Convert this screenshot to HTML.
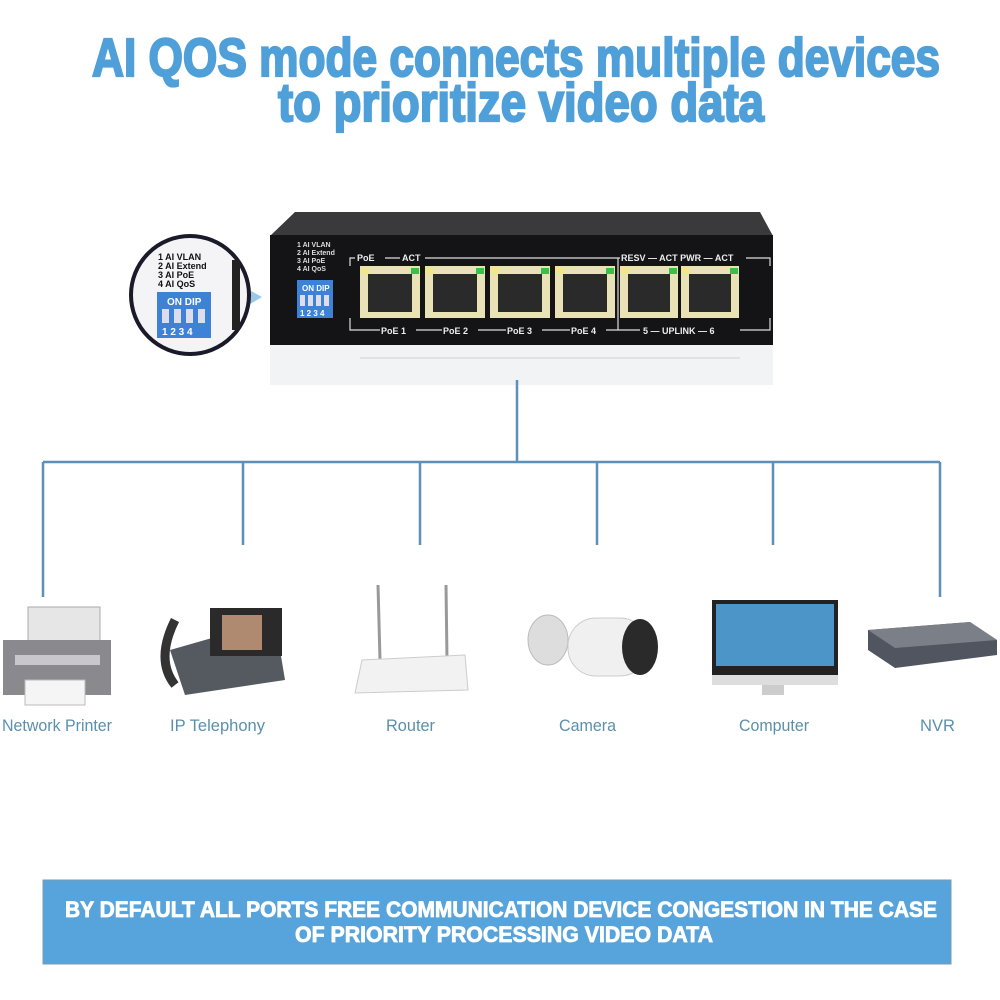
<!DOCTYPE html>
<html><head><meta charset="utf-8"><style>
html,body{margin:0;padding:0;background:#fff;}
svg{display:block;}
</style></head><body>
<svg width="1000" height="1000" viewBox="0 0 1000 1000" xmlns="http://www.w3.org/2000/svg" font-family="Liberation Sans, sans-serif">
<rect width="1000" height="1000" fill="#fff"/>
<g fill="#4f9fd9" stroke="#4f9fd9" stroke-width="2.2" font-weight="bold" font-size="54">
<text x="92" y="76" textLength="848" lengthAdjust="spacingAndGlyphs">AI QOS mode connects multiple devices</text>
<text x="278" y="121" textLength="486" lengthAdjust="spacingAndGlyphs">to prioritize video data</text>
</g>
<polygon points="295,212 760,212 773,236 270,236" fill="#3a3a3c"/>
<rect x="270" y="235" width="503" height="110" fill="#141416"/>
<rect x="270" y="345" width="503" height="40" fill="#f2f3f5"/>
<g stroke="#dfe2e6" stroke-width="2"><line x1="360" y1="358" x2="740" y2="358"/></g>
<g fill="#ddd" font-size="7" font-weight="bold">
<text x="297" y="247">1 AI VLAN</text><text x="297" y="255">2 AI Extend</text><text x="297" y="263">3 AI PoE</text><text x="297" y="271">4 AI QoS</text>
</g>
<rect x="297" y="280" width="36" height="38" fill="#3d82d6"/>
<g fill="#fff" font-size="8" font-weight="bold"><text x="302" y="291">ON DIP</text><text x="300" y="316">1 2 3 4</text></g>
<g fill="#dde"><rect x="300" y="295" width="5" height="11"/><rect x="308" y="295" width="5" height="11"/><rect x="316" y="295" width="5" height="11"/><rect x="324" y="295" width="5" height="11"/></g>
<g stroke="#ddd" stroke-width="1.2" fill="none">
<polyline points="350,266 350,258 770,258 770,266"/>
<polyline points="350,318 350,330 770,330 770,318"/>
<line x1="618" y1="258" x2="618" y2="330"/>
</g>
<g fill="#eee" font-size="9" font-weight="bold">
<rect x="355" y="252" width="30" height="11" fill="#141416"/><text x="357" y="261">PoE</text>
<rect x="400" y="252" width="25" height="11" fill="#141416"/><text x="402" y="261">ACT</text>
<rect x="620" y="252" width="126" height="11" fill="#141416"/><text x="621" y="261">RESV — ACT  PWR — ACT</text>
<rect x="380" y="325" width="36" height="11" fill="#141416"/><text x="381" y="334">PoE 1</text>
<rect x="442" y="325" width="36" height="11" fill="#141416"/><text x="443" y="334">PoE 2</text>
<rect x="506" y="325" width="36" height="11" fill="#141416"/><text x="507" y="334">PoE 3</text>
<rect x="570" y="325" width="36" height="11" fill="#141416"/><text x="571" y="334">PoE 4</text>
<rect x="640" y="325" width="100" height="11" fill="#141416"/><text x="643" y="334">5 — UPLINK — 6</text>
</g>
<g>
<g transform="translate(360,266)"><rect width="60" height="52" fill="#e8e2b6"/><rect x="8" y="8" width="44" height="38" fill="#2a2a2a"/><rect x="1" y="2" width="8" height="6" fill="#f0e68a"/><rect x="51" y="2" width="8" height="6" fill="#39c04a"/></g>
<g transform="translate(425,266)"><rect width="60" height="52" fill="#e8e2b6"/><rect x="8" y="8" width="44" height="38" fill="#2a2a2a"/><rect x="1" y="2" width="8" height="6" fill="#f0e68a"/><rect x="51" y="2" width="8" height="6" fill="#39c04a"/></g>
<g transform="translate(490,266)"><rect width="60" height="52" fill="#e8e2b6"/><rect x="8" y="8" width="44" height="38" fill="#2a2a2a"/><rect x="1" y="2" width="8" height="6" fill="#f0e68a"/><rect x="51" y="2" width="8" height="6" fill="#39c04a"/></g>
<g transform="translate(555,266)"><rect width="60" height="52" fill="#e8e2b6"/><rect x="8" y="8" width="44" height="38" fill="#2a2a2a"/><rect x="1" y="2" width="8" height="6" fill="#f0e68a"/><rect x="51" y="2" width="8" height="6" fill="#39c04a"/></g>
<g transform="translate(620,266)"><rect width="58" height="52" fill="#e8e2b6"/><rect x="8" y="8" width="42" height="38" fill="#2a2a2a"/><rect x="1" y="2" width="8" height="6" fill="#f0e68a"/><rect x="49" y="2" width="8" height="6" fill="#39c04a"/></g>
<g transform="translate(681,266)"><rect width="58" height="52" fill="#e8e2b6"/><rect x="8" y="8" width="42" height="38" fill="#2a2a2a"/><rect x="1" y="2" width="8" height="6" fill="#f0e68a"/><rect x="49" y="2" width="8" height="6" fill="#39c04a"/></g>
</g>
<polygon points="240,285 262,297 240,310" fill="#9cc8e6"/>
<circle cx="190" cy="295" r="59" fill="#f4f4f6" stroke="#1a1a2a" stroke-width="4"/>
<rect x="232" y="260" width="8" height="70" fill="#222"/>
<g fill="#111" font-size="9" font-weight="bold">
<text x="158" y="260">1 AI VLAN</text><text x="158" y="269">2 AI Extend</text><text x="158" y="278">3 AI PoE</text><text x="158" y="287">4 AI QoS</text>
</g>
<rect x="157" y="292" width="54" height="46" fill="#3d82d6"/>
<g fill="#fff" font-size="10" font-weight="bold"><text x="167" y="305">ON DIP</text><text x="162" y="335">1 2 3 4</text></g>
<g fill="#dde"><rect x="162" y="309" width="7" height="14"/><rect x="174" y="309" width="7" height="14"/><rect x="186" y="309" width="7" height="14"/><rect x="198" y="309" width="7" height="14"/></g>
<g stroke="#5c90b8" stroke-width="2.5" fill="none">
<line x1="517" y1="380" x2="517" y2="462"/>
<line x1="43" y1="462" x2="940" y2="462"/>
<line x1="43" y1="462" x2="43" y2="597"/>
<line x1="243" y1="462" x2="243" y2="545"/>
<line x1="420" y1="462" x2="420" y2="545"/>
<line x1="597" y1="462" x2="597" y2="545"/>
<line x1="773" y1="462" x2="773" y2="545"/>
<line x1="940" y1="462" x2="940" y2="597"/>
</g>
<rect x="28" y="607" width="72" height="50" fill="#e6e6e6" stroke="#aaa"/>
<rect x="3" y="640" width="108" height="55" fill="#8a8a8e"/>
<rect x="15" y="655" width="85" height="10" fill="#c8c8cc"/>
<rect x="25" y="680" width="60" height="25" fill="#f5f5f5" stroke="#bbb"/>
<polygon points="170,650 275,620 285,680 185,695" fill="#555a60"/>
<rect x="210" y="608" width="72" height="48" fill="#2a2a2a"/>
<rect x="222" y="615" width="40" height="35" fill="#b08a70"/>
<path d="M175,620 q-20,40 0,65" stroke="#333" stroke-width="9" fill="none"/>
<line x1="378" y1="585" x2="380" y2="660" stroke="#999" stroke-width="3"/>
<line x1="446" y1="585" x2="447" y2="660" stroke="#999" stroke-width="3"/>
<polygon points="362,660 465,655 468,690 355,693" fill="#f2f2f2" stroke="#ccc"/>
<ellipse cx="548" cy="640" rx="20" ry="25" fill="#ddd" stroke="#bbb"/>
<rect x="568" y="618" width="80" height="58" rx="28" fill="#f0f0f0" stroke="#ccc"/>
<ellipse cx="640" cy="647" rx="18" ry="28" fill="#2a2a2a"/>
<rect x="712" y="600" width="126" height="75" fill="#222"/>
<rect x="716" y="604" width="118" height="62" fill="#4b95c8"/>
<rect x="712" y="675" width="126" height="10" fill="#ddd"/>
<rect x="762" y="685" width="22" height="10" fill="#ccc"/>
<polygon points="868,630 970,622 997,640 997,655 895,668 868,650" fill="#505560"/>
<polygon points="868,630 970,622 997,640 895,648" fill="#7a7f88"/>
<g fill="#5b8fad" font-size="17">
<text x="2" y="731" textLength="110" lengthAdjust="spacingAndGlyphs">Network Printer</text>
<text x="170" y="731" textLength="95" lengthAdjust="spacingAndGlyphs">IP Telephony</text>
<text x="386" y="731" textLength="49" lengthAdjust="spacingAndGlyphs">Router</text>
<text x="559" y="731" textLength="57" lengthAdjust="spacingAndGlyphs">Camera</text>
<text x="739" y="731" textLength="70" lengthAdjust="spacingAndGlyphs">Computer</text>
<text x="920" y="731" textLength="35" lengthAdjust="spacingAndGlyphs">NVR</text>
</g>
<rect x="43" y="880" width="908" height="84" fill="#56a4db" stroke="#7a9bb0"/>
<g fill="#fff" stroke="#fff" stroke-width="0.8" font-weight="bold" font-size="22">
<text x="65" y="917" textLength="872" lengthAdjust="spacingAndGlyphs">BY DEFAULT ALL PORTS FREE COMMUNICATION DEVICE CONGESTION IN THE CASE</text>
<text x="295" y="942" textLength="418" lengthAdjust="spacingAndGlyphs">OF PRIORITY PROCESSING VIDEO DATA</text>
</g>
</svg>
</body></html>
